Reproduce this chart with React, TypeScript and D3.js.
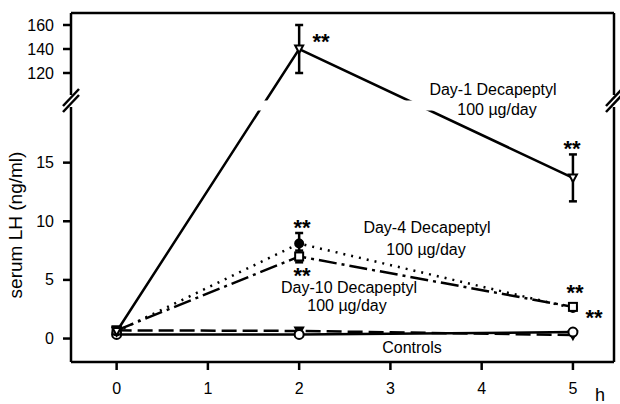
import React from "react";
import * as d3 from "d3";

const hours = [0, 2, 5];
const day1 = [0.6, 140, 13.7];
const day1Err = [0, 20, 2];
const day4 = [0.6, 8.1, 2.6];
const day4Err = [0, 0.9, 0];
const day10 = [0.7, 7.0, 2.7];
const day10Err = [0, 0.5, 0];
const controls = [0.35, 0.35, 0.55];
const controlsB = [0.7, 0.65, 0.3];
const xTicks = [0, 1, 2, 3, 4, 5];
const yTicksLow = [0, 5, 10, 15];
const yTicksHigh = [120, 140, 160];

const W = 620, H = 404;
const L = 71, R = 614, T = 13, B = 362;
const x = d3.scaleLinear().domain([-0.5, 5.45]).range([L, R]);
const yLow = d3.scaleLinear().domain([-2, 20]).range([B, 104]);
const yHigh = d3.scaleLinear().domain([100, 170]).range([97, T]);
const y = (v: number) => (v > 50 ? yHigh(v) : yLow(v));

const font = "Liberation Sans, Arial, sans-serif";

function linePath(vals: number[]) {
  return d3.line<number>().x((_, i) => x(hours[i])).y((v) => y(v))(vals) || "";
}

function ErrBar({ i, vals, errs }: { i: number; vals: number[]; errs: number[] }) {
  if (!errs[i]) return null;
  const cx = x(hours[i]);
  const y1 = y(vals[i] + errs[i]);
  const y2 = y(vals[i] - errs[i]);
  return (
    <g stroke="#000" strokeWidth={2.5}>
      <line x1={cx} x2={cx} y1={y1} y2={y2} />
      <line x1={cx - 4} x2={cx + 4} y1={y1} y2={y1} />
      <line x1={cx - 4} x2={cx + 4} y1={y2} y2={y2} />
    </g>
  );
}

function Stars({ cx, cy }: { cx: number; cy: number }) {
  return (
    <text x={cx} y={cy + 13} textAnchor="middle" fontFamily={font} fontWeight="bold" fontSize={22}>
      **
    </text>
  );
}

export default function App() {
  const tri = (cx: number, cy: number) =>
    `M${cx - 4},${cy - 3.5}L${cx + 4},${cy - 3.5}L${cx},${cy + 4}Z`;
  return (
    <svg width={W} height={H} style={{ position: "absolute", left: 0, top: 0, background: "#fff" }}>
      {/* series lines */}
      <path d={linePath(controls)} fill="none" stroke="#000" strokeWidth={2.5} />
      <path d={linePath(controlsB)} fill="none" stroke="#000" strokeWidth={2.5} strokeDasharray="15,6" />
      <path d={linePath(day4)} fill="none" stroke="#000" strokeWidth={2.5} strokeDasharray="2,6" />
      <path d={linePath(day10)} fill="none" stroke="#000" strokeWidth={2.5} strokeDasharray="18,5,3,5" />
      <path d={linePath(day1)} fill="none" stroke="#000" strokeWidth={2.5} />

      {/* break band */}
      <rect x={55} y={100.5} width={W - 55} height={10} fill="#fff" />

      {/* frame */}
      <g stroke="#000" strokeWidth={2.5} fill="none">
        <line x1={L} x2={R} y1={T} y2={T} />
        <line x1={L} x2={R} y1={B} y2={B} />
        <line x1={L} x2={L} y1={T} y2={95} />
        <line x1={L} x2={L} y1={107} y2={B} />
        <line x1={R} x2={R} y1={T} y2={95} />
        <line x1={R} x2={R} y1={107} y2={B} />
        {/* break slashes */}
        <line x1={63} x2={79} y1={106} y2={89} />
        <line x1={63} x2={79} y1={112} y2={95} />
        <line x1={R - 8} x2={R + 8} y1={106} y2={89} />
        <line x1={R - 8} x2={R + 8} y1={112} y2={95} />
      </g>

      {/* y ticks */}
      {yTicksLow.map((t) => (
        <g key={"l" + t}>
          <line x1={L - 8} x2={L} y1={yLow(t)} y2={yLow(t)} stroke="#000" strokeWidth={2.5} />
          <text x={L - 17} y={yLow(t) + 5.5} textAnchor="end" fontFamily={font} fontSize={16}>
            {t}
          </text>
        </g>
      ))}
      {yTicksHigh.map((t) => (
        <g key={"h" + t}>
          <line x1={L - 8} x2={L} y1={yHigh(t)} y2={yHigh(t)} stroke="#000" strokeWidth={2.5} />
          <text x={L - 17} y={yHigh(t) + 5.5} textAnchor="end" fontFamily={font} fontSize={16}>
            {t}
          </text>
        </g>
      ))}
      {/* x ticks */}
      {xTicks.map((t) => (
        <g key={"x" + t}>
          <line x1={x(t)} x2={x(t)} y1={B} y2={B + 8} stroke="#000" strokeWidth={2.5} />
          <text x={x(t)} y={B + 32} textAnchor="middle" fontFamily={font} fontSize={16}>
            {t}
          </text>
        </g>
      ))}
      <text x={600} y={401} textAnchor="middle" fontFamily={font} fontSize={18}>
        h
      </text>
      <text
        transform={`translate(22,225) rotate(-90)`}
        textAnchor="middle"
        fontFamily={font}
        fontSize={19}
      >
        serum LH (ng/ml)
      </text>

      {/* error bars */}
      {hours.map((_, i) => (
        <g key={"e" + i}>
          <ErrBar i={i} vals={day1} errs={day1Err} />
          <ErrBar i={i} vals={day4} errs={day4Err} />
          <ErrBar i={i} vals={day10} errs={day10Err} />
        </g>
      ))}

      {/* markers */}
      {hours.map((h, i) => (
        <g key={"m" + i} stroke="#000" strokeWidth={2}>
          <path d={tri(x(h), y(controlsB[i]))} fill="#000" />
          <circle cx={x(h)} cy={y(controls[i])} r={4.5} fill="#fff" />
          <circle cx={x(h)} cy={y(day4[i])} r={4} fill="#000" />
          <rect x={x(h) - 4} y={y(day10[i]) - 4} width={8} height={8} fill="#fff" />
          <path d={tri(x(h), y(day1[i]))} fill="#fff" />
        </g>
      ))}

      {/* significance */}
      <Stars cx={321} cy={36} />
      <Stars cx={572} cy={143} />
      <Stars cx={302} cy={222} />
      <Stars cx={302} cy={270} />
      <Stars cx={575} cy={287} />
      <Stars cx={594} cy={312} />

      {/* labels */}
      <g fontFamily={font} fontSize={16} textAnchor="middle">
        <text x={493} y={95}>Day-1 Decapeptyl</text>
        <text x={497} y={115}>100 µg/day</text>
        <text x={427} y={233}>Day-4 Decapeptyl</text>
        <text x={426} y={255}>100 µg/day</text>
        <text x={349} y={293}>Day-10 Decapeptyl</text>
        <text x={347} y={311}>100 µg/day</text>
        <text x={412} y={353}>Controls</text>
      </g>
    </svg>
  );
}
